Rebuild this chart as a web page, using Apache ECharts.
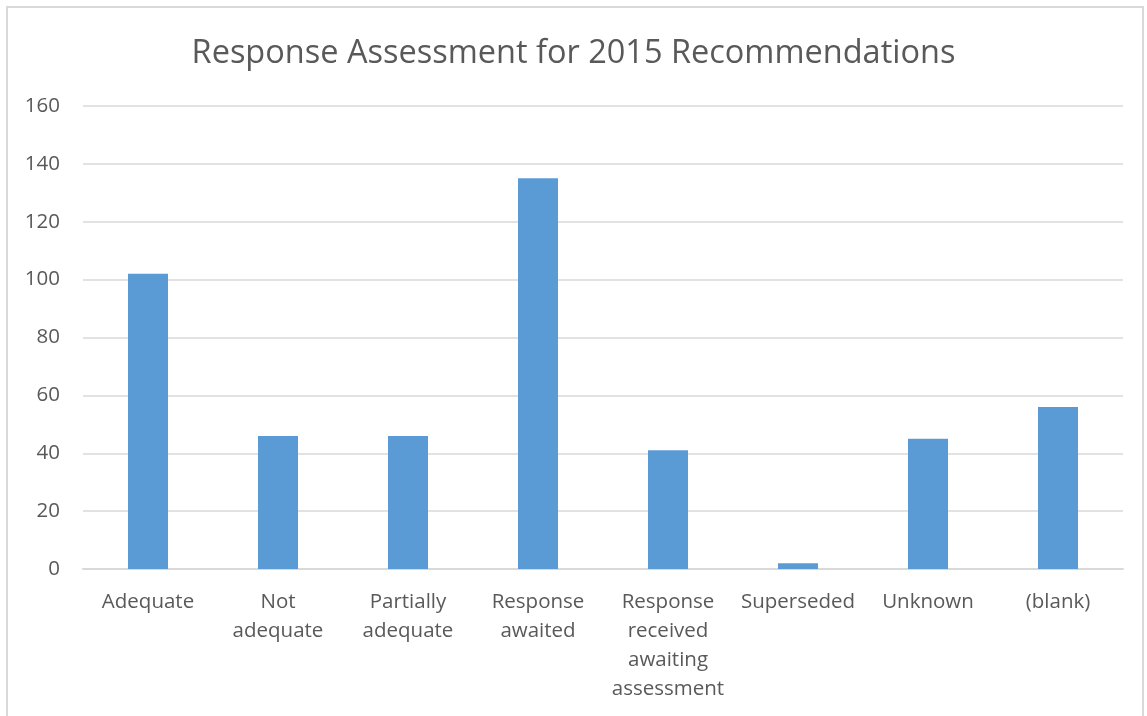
<!DOCTYPE html>
<html>
<head>
<meta charset="utf-8">
<script src="https://cdn.jsdelivr.net/npm/echarts@6/dist/echarts.min.js"></script>
<style>
  html, body { margin: 0; padding: 0; background: #fff; }
  #chart { width: 1147px; height: 716px; }
</style>
</head>
<body>
<div id="chart"></div>
<script>
const categories = [
  'Adequate',
  'Not\nadequate',
  'Partially\nadequate',
  'Response\nawaited',
  'Response\nreceived\nawaiting\nassessment',
  'Superseded',
  'Unknown',
  '(blank)'
]
const counts = [102, 46, 46, 135, 41, 2, 45, 56]

const font = '"Open Sans", "Noto Sans", sans-serif'
const chart = echarts.init(document.getElementById('chart'))

chart.setOption({
  animation: false,
  graphic: [
    {
      type: 'rect',
      shape: { x: 7, y: 7, width: 1136, height: 740 },
      style: { fill: 'none', stroke: '#d9d9d9', lineWidth: 2 },
      silent: true
    }
  ],
  title: {
    text: 'Response Assessment for 2015 Recommendations',
    left: 'center',
    top: 32,
    textStyle: {
      fontFamily: font,
      fontSize: 32.5,
      fontWeight: 'normal',
      color: '#595959'
    }
  },
  grid: {
    left: 83,
    right: 24,
    top: 106,
    bottom: 147
  },
  xAxis: {
    type: 'category',
    data: categories,
    axisLine: { lineStyle: { color: '#d9d9d9', width: 2 } },
    axisTick: { show: false },
    axisLabel: {
      interval: 0,
      margin: 19,
      fontFamily: font,
      fontSize: 20.5,
      lineHeight: 29,
      color: '#595959'
    }
  },
  yAxis: {
    type: 'value',
    min: 0,
    max: 160,
    interval: 20,
    axisLine: { show: false },
    axisTick: { show: false },
    splitLine: { lineStyle: { color: '#d9d9d9', width: 1.5 } },
    axisLabel: {
      margin: 23,
      fontFamily: font,
      fontSize: 20.5,
      color: '#595959'
    }
  },
  series: [
    {
      type: 'bar',
      data: counts,
      barWidth: 40,
      itemStyle: { color: '#5b9bd5' }
    }
  ]
})
</script>
</body>
</html>
